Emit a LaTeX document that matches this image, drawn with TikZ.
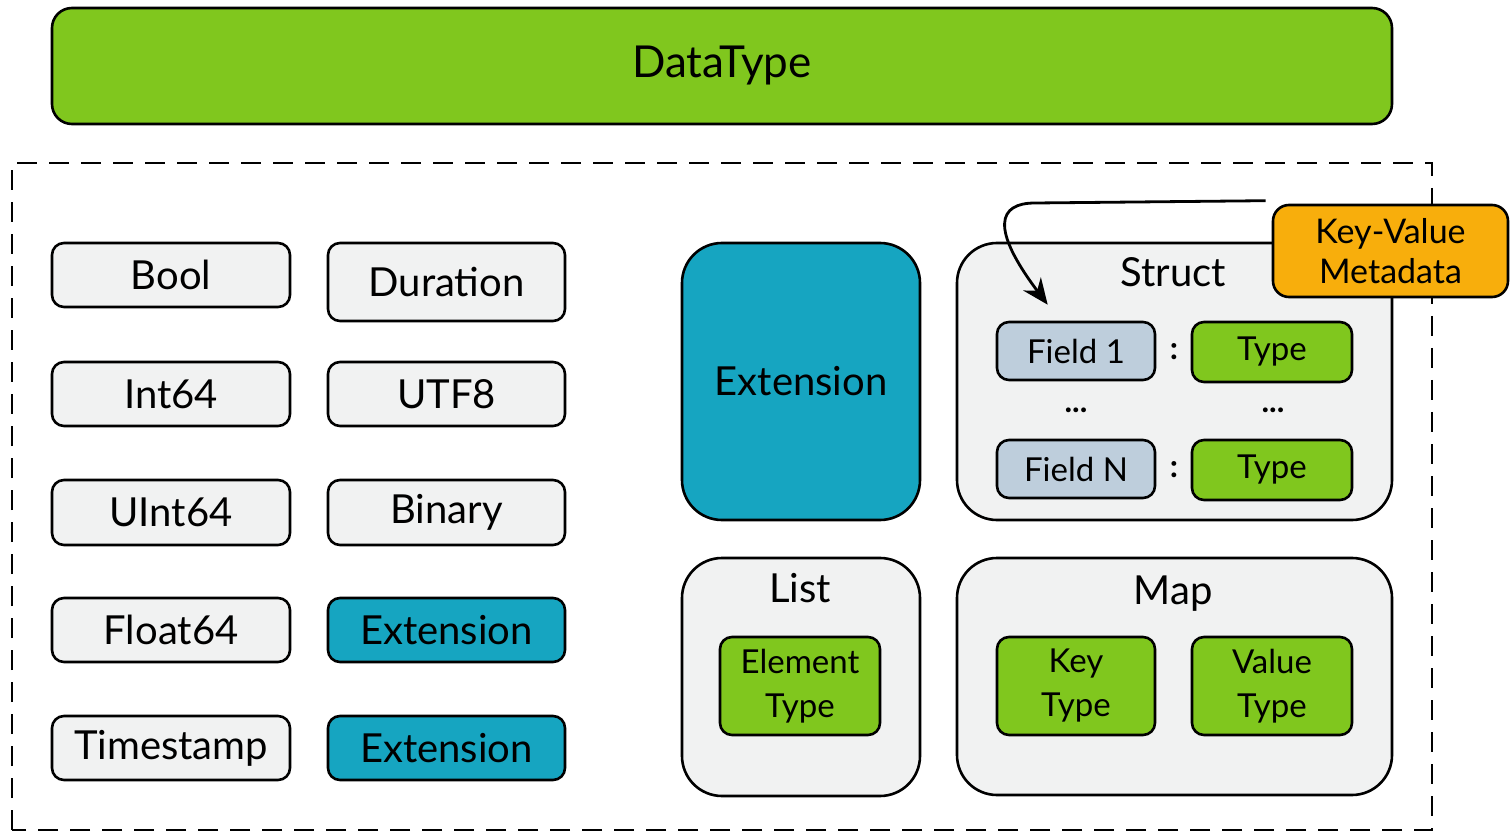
\documentclass[tikz,border=0pt]{standalone}
\usepackage{fontspec}
\setmainfont{Lato}
\usetikzlibrary{arrows.meta}
\definecolor{dtgreen}{RGB}{128,199,30}
\definecolor{extteal}{RGB}{22,165,193}
\definecolor{boxgray}{RGB}{241,242,242}
\definecolor{fieldblue}{RGB}{190,206,220}
\definecolor{kvorange}{RGB}{248,174,12}
\tikzset{
  sz/.style 2 args={minimum width=#1*0.5pt, minimum height=#2*0.5pt},
  outline/.style={draw=black, line width=1.3pt, inner sep=0pt, align=center},
  basebox/.style={outline, rounded corners=6pt, fill=boxgray, font=\fontsize{20}{24}\selectfont},
  extbox/.style={basebox, fill=extteal},
  container/.style={outline, rounded corners=20pt, fill=boxgray},
  inner/.style={outline, rounded corners=6pt, font=\fontsize{16.5}{22}\selectfont},
  typebox/.style={inner, fill=dtgreen},
  fieldbox/.style={inner, fill=fieldblue},
  title/.style={font=\fontsize{20}{24}\selectfont, inner sep=0pt},
  dots/.style={font=\fontsize{16}{20}\selectfont\bfseries, inner sep=0pt},
  frame/.style={draw=black, line width=1.2pt, dash pattern=on 10pt off 6pt},
  arr/.style={draw=black, line width=1.4pt, -{Stealth[length=13pt,width=11pt]}}
}
\begin{document}
\begin{tikzpicture}[x=0.5pt,y=-0.5pt]
\useasboundingbox (0,0) rectangle (1511,834);

% header bar
\node[outline, rounded corners=10pt, fill=dtgreen, sz={1340}{116},
      font=\fontsize{22}{26}\selectfont] (dt) at (722,66) {DataType};

% dashed group of all types
\draw[frame] (12,830) -- (12,163) -- (1432,163) -- (1432,830) -- cycle;

% primitive types, two columns
\node[basebox, sz={238}{64}] (bool) at (171,275) {Bool};
\node[basebox, sz={237}{78}] (duration) at (446.5,282) {Duration};
\node[basebox, sz={238}{64}] (int64) at (171,394) {Int64};
\node[basebox, sz={237}{64}] (utf8) at (446.5,394) {UTF8};
\node[basebox, sz={238}{65}] (uint64) at (171,512.5) {UInt64};
\node[basebox, sz={237}{65}] (binary) at (446.5,512.5) {Binary};
\node[basebox, sz={238}{64}] (float64) at (171,630) {Float64};
\node[extbox, sz={237}{64}] (ext1) at (446.5,630) {Extension};
\node[basebox, sz={238}{64}] (timestamp) at (171,748) {Timestamp};
\node[extbox, sz={237}{64}] (ext2) at (446.5,748) {Extension};

% large extension type
\node[container, fill=extteal, sz={238}{277}, font=\fontsize{20}{24}\selectfont]
     (extbig) at (801,381.5) {Extension};

% struct
\node[container, sz={435}{277}] (struct) at (1174.5,381.5) {};
\node[title] (structlbl) at (1173,272) {Struct};
\node[fieldbox, sz={158}{58}] (f1) at (1076,351) {Field 1};
\node[typebox, sz={160}{60}] (t1) at (1272,352) {Type};
\node[dots] (c1) at (1174,352) {:};
\node[dots] (d1) at (1076,410) {...};
\node[dots] (d2) at (1273,410) {...};
\node[fieldbox, sz={158}{58}] (fn) at (1076,469) {Field N};
\node[typebox, sz={160}{60}] (tn) at (1272,470) {Type};
\node[dots] (c2) at (1174,470) {:};

% metadata attached to fields
\node[outline, rounded corners=8pt, fill=kvorange, sz={235}{92},
      font=\fontsize{17}{20}\selectfont] (kv) at (1390.5,251) {Key-Value\\Metadata};
\coordinate (tip) at ([xshift=26pt,yshift=8pt]f1.north west);
\draw[arr] ([xshift=-3pt,yshift=1.5pt]kv.north west) -- (1035,203)
  .. controls (998,203) and (990,228) .. (tip);

% list
\node[container, sz={238}{238}] (list) at (801,677) {};
\node[title] (listlbl) at (800,588) {List};
\node[typebox, sz={160}{98}] (elem) at (800,686) {Element\\Type};

% map
\node[container, sz={435}{237}] (map) at (1174.5,676.5) {};
\node[title] (maplbl) at (1173,594) {Map};
\node[typebox, sz={158}{98}] (key) at (1076,686) {Key\\Type};
\node[typebox, sz={160}{98}] (val) at (1272,686) {Value\\Type};
\end{tikzpicture}
\end{document}
